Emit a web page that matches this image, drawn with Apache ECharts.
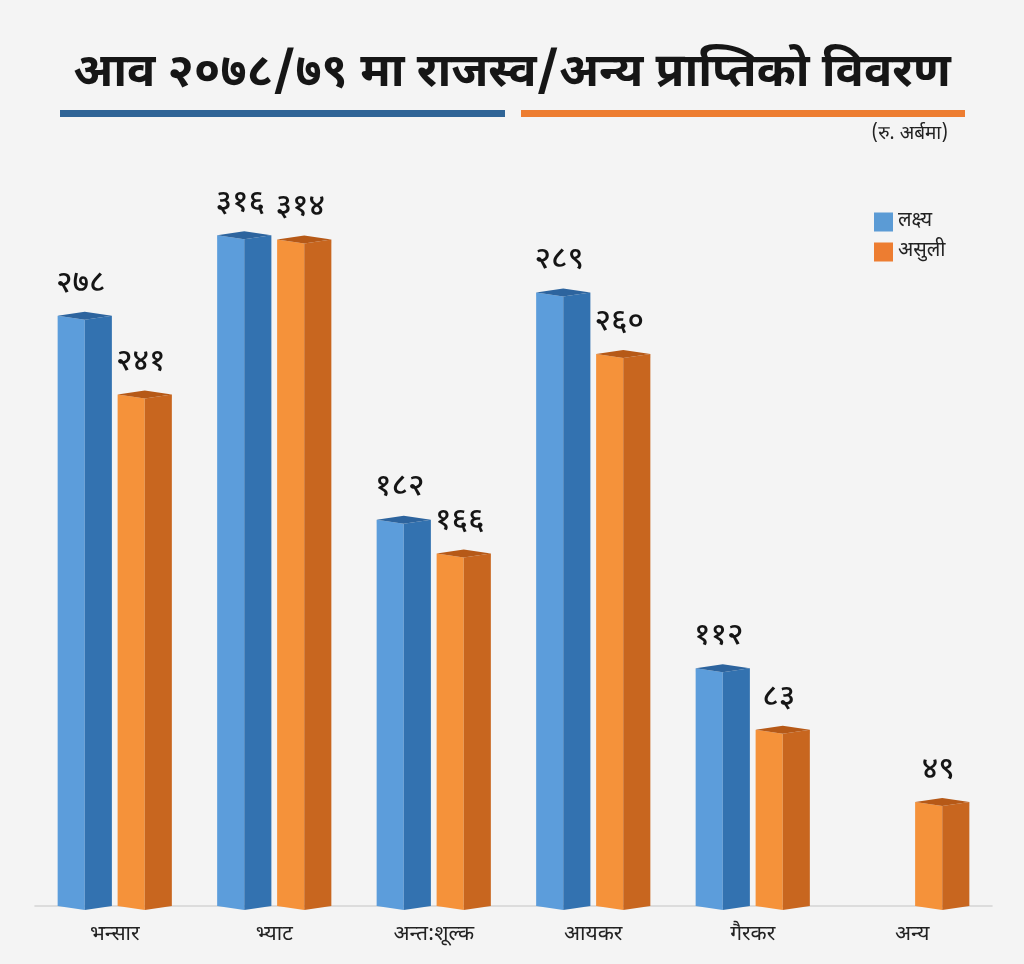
<!DOCTYPE html>
<html><head><meta charset="utf-8">
<script src="https://cdn.jsdelivr.net/npm/echarts@6/dist/echarts.min.js"></script>
<style>html,body{margin:0;padding:0;background:#f4f4f4}#c{width:1024px;height:964px}</style>
</head><body><div id="c"></div><script>
const titleText = 'आव २०७८/७९ मा राजस्व/अन्य प्राप्तिको विवरण';
const unitText = '(रु. अर्बमा)';
const categories = ['भन्सार', 'भ्याट', 'अन्त:शूल्क', 'आयकर', 'गैरकर', 'अन्य'];
const seriesNames = ['लक्ष्य', 'असुली'];
const targetValues = [278, 316, 182, 289, 112, null];
const collectedValues = [241, 314, 166, 260, 83, 49];

const FONT = "'Noto Sans Devanagari', 'Noto Sans', 'Lohit Devanagari', 'Mukta', sans-serif";
const DIG = '०१२३४५६७८९';
function toDev(n){ return String(n).replace(/[0-9]/g, d => DIG[+d]); }

function prism(faces, shift){
  return function(params, api){
    const v = api.value(1);
    if (v == null || isNaN(v)) return null;
    const c = api.value(0);
    const p0 = api.coord([c, 0]);
    const p1 = api.coord([c, v]);
    const band = api.size([1, 0])[0];
    const hw = band * 0.17;
    const cx = p0[0] + band * shift;
    const d = 4;
    const yb = p0[1], yt = p1[1];
    return {type: 'group', children: [
      {type: 'polygon', shape: {points: [[cx - hw, yt], [cx, yt + d], [cx, yb + d], [cx - hw, yb]]}, style: {fill: faces.left}},
      {type: 'polygon', shape: {points: [[cx, yt + d], [cx + hw, yt], [cx + hw, yb], [cx, yb + d]]}, style: {fill: faces.right}},
      {type: 'polygon', shape: {points: [[cx - hw, yt], [cx, yt - d], [cx + hw, yt], [cx, yt + d]]}, style: {fill: faces.top}},
      {type: 'text', style: {text: toDev(v), x: cx - 4, y: yt - 30, align: 'center', verticalAlign: 'middle',
        fontSize: 31, fontWeight: 500, fill: '#151515', fontFamily: FONT}}
    ]};
  };
}

const chart = echarts.init(document.getElementById('c'), null, {renderer: 'canvas'});
chart.setOption({
  backgroundColor: '#f4f4f4',
  animation: false,
  grid: {left: 35, right: 32, top: 163, bottom: 58},
  xAxis: {type: 'category', data: categories,
    axisLine: {lineStyle: {color: '#d3d3d3', width: 1.5}},
    axisTick: {show: false},
    axisLabel: {fontSize: 21, color: '#222', margin: 20, fontFamily: FONT}},
  yAxis: {type: 'value', min: 0, max: 350, show: false, splitLine: {show: false}},
  legend: {orient: 'vertical', left: 869, top: 207, itemWidth: 19, itemHeight: 19, itemGap: 10, icon: 'rect',
    textStyle: {fontSize: 20, color: '#222', fontFamily: FONT}, data: seriesNames},
  series: [
    {name: seriesNames[0], type: 'custom', itemStyle: {color: '#5b9bd5'},
      renderItem: prism({left: '#5c9ddb', right: '#3372b0', top: '#2d649e'}, -0.188),
      encode: {x: 0, y: 1},
      data: categories.map((c, i) => [i, targetValues[i]])},
    {name: seriesNames[1], type: 'custom', itemStyle: {color: '#ed7d31'},
      renderItem: prism({left: '#f5923a', right: '#c8661f', top: '#b65917'}, 0.188),
      encode: {x: 0, y: 1},
      data: categories.map((c, i) => [i, collectedValues[i]])}
  ],
  graphic: [
    {type: 'text', left: 'center', top: 54, style: {text: titleText, fontSize: 47, fontWeight: 'bold', fill: '#161616', fontFamily: FONT}},
    {type: 'rect', shape: {x: 60, y: 110, width: 445, height: 7}, style: {fill: '#2f6496'}},
    {type: 'rect', shape: {x: 521, y: 110, width: 444, height: 7}, style: {fill: '#ed7d31'}},
    {type: 'text', right: 76, top: 126, style: {text: unitText, fontSize: 19, fill: '#222', fontFamily: FONT}}
  ]
});
</script></body></html>
